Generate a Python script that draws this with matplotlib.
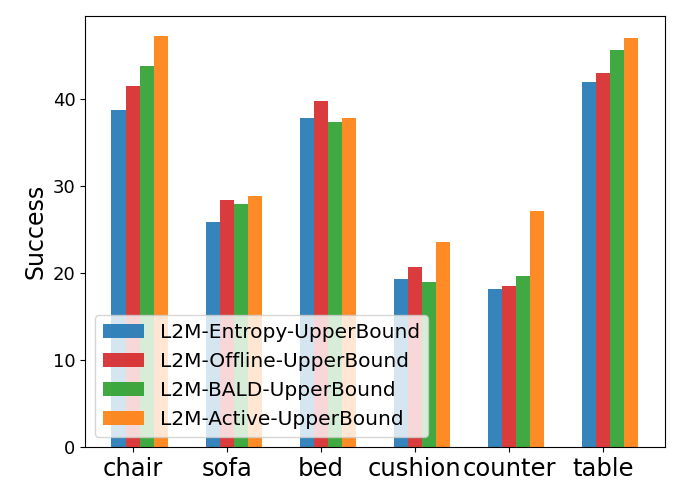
import matplotlib
matplotlib.use("Agg")
import matplotlib.pyplot as plt
import numpy as np

categories = ["chair", "sofa", "bed", "cushion", "counter", "table"]
series_names = ["L2M-Entropy-UpperBound", "L2M-Offline-UpperBound",
                "L2M-BALD-UpperBound", "L2M-Active-UpperBound"]
entropy = [38.7, 25.9, 37.8, 19.3, 18.2, 42.0]
offline = [41.5, 28.4, 39.8, 20.7, 18.5, 43.0]
bald = [43.8, 27.9, 37.4, 19.0, 19.7, 45.6]
active = [47.2, 28.9, 37.8, 23.6, 27.2, 47.0]
series = [entropy, offline, bald, active]
colors = ["tab:blue", "tab:red", "tab:green", "tab:orange"]

fig, ax = plt.subplots(figsize=(6.81, 4.97), dpi=100)
x = np.arange(len(categories))
w = 0.15
for k, (vals, name, c) in enumerate(zip(series, series_names, colors)):
    ax.bar(x + (k - 1) * w, vals, w, label=name, color=c, alpha=0.9)

ax.set_xticks(x)
ax.set_xticklabels(categories, fontsize=17.5)
ax.tick_params(axis="y", labelsize=13)
ax.set_ylabel("Success", fontsize=17)
ax.legend(loc="lower left", fontsize=14.5)
fig.subplots_adjust(left=0.125, right=0.976, top=0.968, bottom=0.1)
fig.savefig("out.png", dpi=100)
